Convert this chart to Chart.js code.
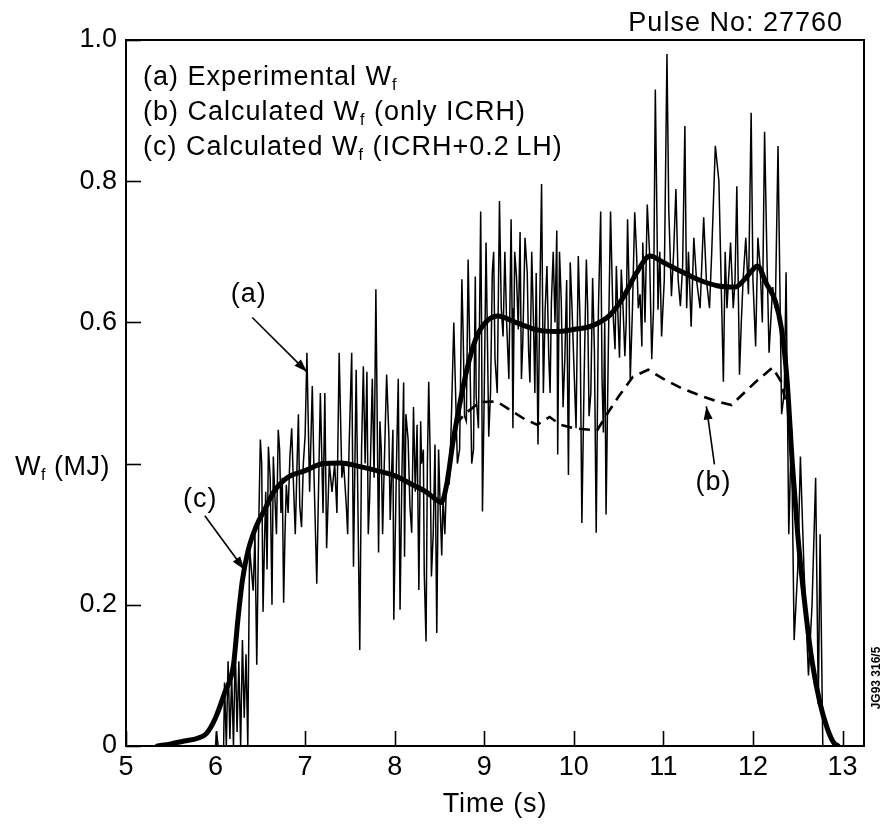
<!DOCTYPE html>
<html><head><meta charset="utf-8">
<script src="https://cdn.jsdelivr.net/npm/chart.js@4.4.0/dist/chart.umd.min.js"></script>
<style>html,body{margin:0;padding:0;background:#fff;}#wrap{width:882px;height:825px;}</style>
</head><body><div id="wrap"><canvas id="c" width="882" height="825"></canvas></div>
<script>
// ---------- data ----------
const xTickValues = [5, 6, 7, 8, 9, 10, 11, 12, 13];
const yTickValues = [0, 0.2, 0.4, 0.6, 0.8, 1.0];
const yTickLabels = ['0', '0.2', '', '0.6', '0.8', '1.0'];   // 0.4 carries the axis title instead

// (a) Experimental Wf  [time (s), Wf (MJ)]
const expSamples = [
[5.30,0],[6.00,0],[6.01,0.02],[6.03,0],[6.09,0],[6.10,0.09],[6.12,0],[6.14,0.12],[6.16,0.01],[6.18,0.10],
[6.20,0],[6.22,0.14],[6.24,0.02],[6.26,0.12],[6.28,0],[6.30,0.15],[6.32,0.04],[6.34,0.13],[6.36,0],[6.38,0.28],
[6.42,0.22],[6.44,0.30],[6.46,0.115],[6.48,0.30],[6.50,0.434],[6.515,0.40],[6.53,0.19],[6.545,0.28],[6.56,0.36],[6.575,0.25],
[6.59,0.424],[6.61,0.38],[6.63,0.20],[6.645,0.41],[6.66,0.36],[6.68,0.30],[6.70,0.448],[6.715,0.42],[6.73,0.33],[6.745,0.38],
[6.76,0.203],[6.775,0.30],[6.79,0.37],[6.81,0.33],[6.83,0.41],[6.85,0.45],[6.87,0.37],[6.89,0.30],[6.91,0.40],[6.925,0.47],
[6.94,0.34],[6.96,0.31],[6.98,0.40],[7.00,0.44],[7.02,0.557],[7.05,0.36],[7.08,0.51],[7.10,0.38],[7.13,0.23],[7.17,0.50],
[7.20,0.33],[7.22,0.50],[7.24,0.28],[7.27,0.40],[7.30,0.36],[7.33,0.40],[7.355,0.33],[7.38,0.557],[7.41,0.38],[7.43,0.40],
[7.46,0.34],[7.475,0.30],[7.49,0.42],[7.52,0.557],[7.54,0.254],[7.57,0.533],[7.61,0.136],[7.63,0.42],[7.65,0.538],[7.67,0.40],
[7.69,0.53],[7.705,0.30],[7.72,0.35],[7.75,0.52],[7.77,0.38],[7.79,0.647],[7.82,0.274],[7.835,0.46],[7.85,0.42],[7.865,0.30],
[7.88,0.38],[7.91,0.526],[7.935,0.44],[7.95,0.32],[7.98,0.448],[7.99,0.179],[8.02,0.40],[8.04,0.52],[8.06,0.193],[8.08,0.38],
[8.10,0.515],[8.11,0.268],[8.125,0.47],[8.15,0.434],[8.17,0.34],[8.19,0.302],[8.21,0.48],[8.23,0.36],[8.25,0.455],[8.27,0.221],
[8.29,0.46],[8.30,0.40],[8.32,0.42],[8.33,0.245],[8.35,0.148],[8.365,0.40],[8.38,0.516],[8.395,0.42],[8.41,0.24],[8.43,0.30],
[8.45,0.427],[8.47,0.16],[8.49,0.42],[8.51,0.33],[8.525,0.27],[8.54,0.35],[8.56,0.30],[8.58,0.38],[8.61,0.373],[8.63,0.45],
[8.66,0.60],[8.68,0.50],[8.70,0.40],[8.725,0.42],[8.75,0.661],[8.765,0.58],[8.78,0.467],[8.80,0.46],[8.82,0.689],[8.84,0.55],
[8.86,0.40],[8.88,0.42],[8.90,0.665],[8.91,0.495],[8.935,0.45],[8.96,0.757],[8.97,0.60],[8.98,0.332],[9.00,0.50],[9.02,0.713],
[9.035,0.58],[9.05,0.438],[9.07,0.50],[9.09,0.671],[9.105,0.70],[9.12,0.548],[9.145,0.50],[9.17,0.772],[9.19,0.62],[9.21,0.58],
[9.23,0.70],[9.25,0.60],[9.275,0.52],[9.30,0.746],[9.31,0.62],[9.32,0.45],[9.34,0.70],[9.36,0.665],[9.38,0.59],[9.40,0.728],
[9.415,0.52],[9.43,0.571],[9.455,0.72],[9.48,0.67],[9.495,0.56],[9.51,0.515],[9.53,0.70],[9.55,0.60],[9.565,0.50],[9.58,0.67],
[9.60,0.427],[9.62,0.63],[9.64,0.796],[9.66,0.50],[9.68,0.618],[9.70,0.68],[9.72,0.552],[9.735,0.50],[9.75,0.63],[9.77,0.70],
[9.79,0.60],[9.81,0.73],[9.82,0.413],[9.84,0.70],[9.86,0.63],[9.88,0.48],[9.90,0.55],[9.92,0.66],[9.94,0.384],[9.96,0.685],
[9.98,0.62],[10.00,0.543],[10.025,0.45],[10.05,0.694],[10.07,0.60],[10.09,0.316],[10.115,0.52],[10.14,0.689],[10.155,0.62],[10.17,0.467],
[10.19,0.50],[10.21,0.663],[10.23,0.56],[10.25,0.302],[10.275,0.62],[10.30,0.757],[10.315,0.52],[10.33,0.444],[10.345,0.60],[10.36,0.328],
[10.385,0.56],[10.41,0.757],[10.435,0.62],[10.46,0.562],[10.475,0.68],[10.49,0.62],[10.51,0.55],[10.53,0.675],[10.55,0.62],[10.57,0.552],
[10.585,0.60],[10.60,0.746],[10.615,0.66],[10.63,0.519],[10.655,0.62],[10.68,0.756],[10.70,0.70],[10.72,0.62],[10.74,0.64],[10.76,0.566],
[10.77,0.713],[10.795,0.60],[10.82,0.767],[10.845,0.70],[10.87,0.548],[10.89,0.62],[10.91,0.93],[10.925,0.78],[10.94,0.618],[10.96,0.70],
[10.98,0.58],[11.01,0.66],[11.04,0.98],[11.06,0.76],[11.09,0.637],[11.115,0.70],[11.14,0.789],[11.165,0.66],[11.19,0.623],[11.215,0.68],
[11.24,0.878],[11.26,0.62],[11.28,0.70],[11.31,0.594],[11.34,0.72],[11.37,0.66],[11.41,0.62],[11.45,0.749],[11.48,0.66],[11.515,0.62],
[11.54,0.70],[11.58,0.85],[11.62,0.80],[11.67,0.516],[11.69,0.70],[11.71,0.62],[11.75,0.713],[11.78,0.62],[11.80,0.66],[11.82,0.793],
[11.85,0.526],[11.87,0.60],[11.89,0.66],[11.92,0.72],[11.95,0.64],[11.98,0.897],[12.00,0.66],[12.03,0.566],[12.055,0.72],[12.08,0.68],
[12.105,0.60],[12.13,0.87],[12.155,0.70],[12.18,0.557],[12.22,0.65],[12.25,0.62],[12.28,0.85],[12.32,0.47],[12.35,0.50],[12.37,0.671],
[12.40,0.30],[12.43,0.45],[12.46,0.15],[12.50,0.25],[12.53,0.41],[12.57,0.25],[12.62,0.10],[12.66,0.20],[12.70,0.38],[12.73,0.06],
[12.75,0.30],[12.78,0],[13.00,0]
];

// (b) Calculated Wf (only ICRH)
const calcBT = [8.68,8.78,8.95,9.14,9.30,9.45,9.59,9.73,9.85,10.00,10.26,10.37,10.50,10.66,10.83,11.00,11.20,11.44,11.60,11.76,11.90,12.05,12.22,12.32,12.36];
const calcBW = [0.455,0.470,0.487,0.488,0.475,0.463,0.455,0.466,0.455,0.450,0.447,0.470,0.495,0.523,0.533,0.520,0.507,0.495,0.488,0.483,0.500,0.518,0.536,0.515,0.490];

// (c) Calculated Wf (ICRH+0.2 LH)
const calcCT = [5.35,5.50,5.65,5.80,5.90,6.00,6.10,6.20,6.25,6.30,6.36,6.45,6.55,6.65,6.80,7.00,7.20,7.40,7.60,7.80,
8.00,8.20,8.35,8.45,8.52,8.58,8.65,8.72,8.80,8.90,9.00,9.15,9.35,9.60,9.80,10.00,10.20,10.40,10.55,10.70,
10.85,11.00,11.20,11.40,11.60,11.80,11.90,12.00,12.05,12.15,12.25,12.32,12.38,12.44,12.50,12.58,12.66,12.75,12.83,12.90,12.95];
const calcCW = [0,0.003,0.007,0.011,0.018,0.040,0.075,0.115,0.180,0.235,0.275,0.310,0.335,0.360,0.380,0.390,0.400,0.401,0.396,0.390,
0.383,0.370,0.360,0.350,0.345,0.370,0.430,0.480,0.530,0.575,0.598,0.609,0.600,0.589,0.587,0.590,0.595,0.610,0.635,0.670,
0.694,0.685,0.672,0.660,0.652,0.650,0.660,0.675,0.680,0.655,0.630,0.590,0.520,0.400,0.300,0.200,0.120,0.060,0.025,0.005,0];

const legendLines = [
  ['(a) Experimental W', 'f', ''],
  ['(b) Calculated W', 'f', ' (only ICRH)'],
  ['(c) Calculated W', 'f', ' (ICRH+0.2\u2009LH)']
];
const annotations = [
  {label: '(a)', text: [6.37, 0.64], from: [6.41, 0.607], to: [7.02, 0.530]},
  {label: '(b)', text: [11.56, 0.373], from: [11.57, 0.399], to: [11.48, 0.481]},
  {label: '(c)', text: [5.83, 0.349], from: [5.88, 0.326], to: [6.32, 0.250]}
];

// ---------- chart ----------
const FONT = "'Liberation Sans', Arial, Helvetica, sans-serif";
const pts = (t, w) => t.map((v, i) => ({x: v, y: w[i]}));

function arrow(ctx, x1, y1, x2, y2) {
  ctx.beginPath(); ctx.moveTo(x1, y1); ctx.lineTo(x2, y2); ctx.stroke();
  const a = Math.atan2(y2 - y1, x2 - x1), L = 13, W = 4.5;
  ctx.beginPath();
  ctx.moveTo(x2, y2);
  ctx.lineTo(x2 - L * Math.cos(a) + W * Math.sin(a), y2 - L * Math.sin(a) - W * Math.cos(a));
  ctx.lineTo(x2 - L * Math.cos(a) - W * Math.sin(a), y2 - L * Math.sin(a) + W * Math.cos(a));
  ctx.closePath(); ctx.fill();
}
function subText(ctx, x, y, main, sub, rest, size, spacing) {
  ctx.letterSpacing = spacing + 'px';
  ctx.font = size + 'px ' + FONT;
  ctx.fillText(main, x, y);
  let w = ctx.measureText(main).width;
  ctx.font = Math.round(size * 0.6) + 'px ' + FONT;
  ctx.fillText(sub, x + w, y + 5);
  w += ctx.measureText(sub).width;
  ctx.font = size + 'px ' + FONT;
  ctx.fillText(rest, x + w, y);
  ctx.letterSpacing = '0px';
}

const decor = {
  id: 'decor',
  afterDraw(chart) {
    const ctx = chart.ctx, a = chart.chartArea, xs = chart.scales.x, ys = chart.scales.y;
    ctx.save();
    ctx.strokeStyle = '#000'; ctx.fillStyle = '#000';
    ctx.lineWidth = 2;
    ctx.strokeRect(a.left, a.top, a.right - a.left, a.bottom - a.top);
    ctx.lineWidth = 1.6;
    xTickValues.forEach(v => {
      const p = Math.round(xs.getPixelForValue(v)) + 0.5;
      ctx.beginPath(); ctx.moveTo(p, a.bottom); ctx.lineTo(p, a.bottom - 15); ctx.stroke();
    });
    yTickValues.forEach(v => {
      const p = Math.round(ys.getPixelForValue(v)) + 0.5;
      ctx.beginPath(); ctx.moveTo(a.left, p); ctx.lineTo(a.left + 15, p); ctx.stroke();
    });
    // legend text
    ctx.textAlign = 'left'; ctx.textBaseline = 'alphabetic';
    legendLines.forEach((l, i) => subText(ctx, a.left + 17, a.top + 45 + i * 35, l[0], l[1], l[2], 27, 1));
    // annotations
    ctx.lineWidth = 1.6;
    annotations.forEach(an => {
      ctx.font = '27px ' + FONT; ctx.textAlign = 'center'; ctx.textBaseline = 'middle';
      ctx.letterSpacing = '1px';
      ctx.fillText(an.label, xs.getPixelForValue(an.text[0]), ys.getPixelForValue(an.text[1]));
      ctx.letterSpacing = '0px';
      arrow(ctx, xs.getPixelForValue(an.from[0]), ys.getPixelForValue(an.from[1]),
                 xs.getPixelForValue(an.to[0]), ys.getPixelForValue(an.to[1]));
    });
    // y title (sits at the 0.4 tick level)
    ctx.textAlign = 'left'; ctx.textBaseline = 'alphabetic';
    subText(ctx, 15, ys.getPixelForValue(0.4) + 11, 'W', 'f', ' (MJ)', 27, 0.5);
    // x title
    ctx.letterSpacing = '0.8px';
    ctx.font = '27px ' + FONT; ctx.textAlign = 'center'; ctx.textBaseline = 'alphabetic';
    ctx.fillText('Time (s)', (a.left + a.right) / 2, 812);
    // pulse
    ctx.letterSpacing = '1px';
    ctx.textAlign = 'right';
    ctx.fillText('Pulse No: 27760', 843, 31);
    ctx.letterSpacing = '0px';
    // JG code
    ctx.translate(877, 678); ctx.rotate(-Math.PI / 2);
    ctx.font = 'bold 12px ' + FONT; ctx.textAlign = 'center'; ctx.textBaseline = 'middle';
    ctx.fillText('JG93 316/5', 0, 0);
    ctx.restore();
  }
};

new Chart(document.getElementById('c'), {
  type: 'line',
  data: {
    datasets: [
      {label: 'c', data: pts(calcCT, calcCW), borderColor: '#000', borderWidth: 5, pointRadius: 0,
       cubicInterpolationMode: 'monotone', order: 1, borderCapStyle: 'round', borderJoinStyle: 'round'},
      {label: 'b', data: pts(calcBT, calcBW), borderColor: '#000', borderWidth: 2.6, pointRadius: 0,
       borderDash: [11, 7], tension: 0, order: 2},
      {label: 'a', data: expSamples.map(p => ({x: p[0], y: p[1]})), borderColor: '#000', borderWidth: 1.5,
       pointRadius: 0, tension: 0, order: 3}
    ]
  },
  options: {
    responsive: false, animation: false, devicePixelRatio: 1,
    layout: {padding: {left: 0, top: 40, right: 18, bottom: 0}},
    plugins: {legend: {display: false}, tooltip: {enabled: false}},
    scales: {
      x: {type: 'linear', min: 5, max: 13.24,
          grid: {display: false, drawTicks: false}, border: {display: false},
          ticks: {stepSize: 1, includeBounds: false, autoSkip: false, maxRotation: 0, color: '#000', padding: 5,
                  font: {family: FONT, size: 27}},
          afterFit: s => { s.height = 79; }},
      y: {min: 0, max: 1,
          grid: {display: false, drawTicks: false}, border: {display: false},
          ticks: {stepSize: 0.2, color: '#000', padding: 9, font: {family: FONT, size: 27},
                  callback: v => {
                    const i = yTickValues.findIndex(t => Math.abs(t - v) < 1e-6);
                    return i >= 0 ? yTickLabels[i] : '';
                  }},
          afterFit: s => { s.width = 126; }}
    }
  },
  plugins: [decor]
});
</script>
</body></html>
